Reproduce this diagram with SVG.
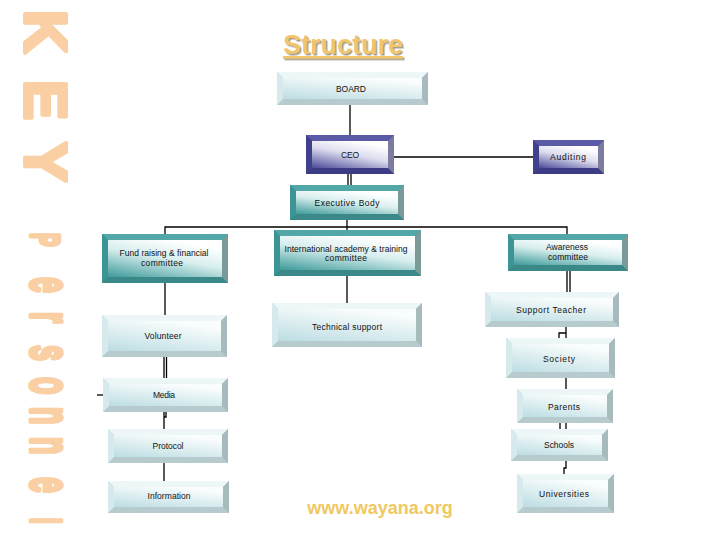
<svg xmlns="http://www.w3.org/2000/svg" width="720" height="540" viewBox="0 0 720 540">
<defs>
<linearGradient id="gLight" x1="0" y1="1" x2="0.55" y2="0"><stop offset="0" stop-color="#BCDDE2"/><stop offset="1" stop-color="#FAFDFD"/></linearGradient>
<linearGradient id="gTeal" x1="0" y1="1" x2="0.55" y2="0"><stop offset="0" stop-color="#3E9A9A"/><stop offset="0.6" stop-color="#D8EEEE"/><stop offset="1" stop-color="#FFFFFF"/></linearGradient>
<linearGradient id="gNavy" x1="0" y1="1" x2="0.55" y2="0"><stop offset="0" stop-color="#4A4A98"/><stop offset="0.6" stop-color="#DCDCEE"/><stop offset="1" stop-color="#FFFFFF"/></linearGradient>
<filter id="shadow" x="-10%" y="-20%" width="130%" height="150%"><feDropShadow dx="1.5" dy="1.5" stdDeviation="0.4" flood-color="#8C8470" flood-opacity="0.8"/></filter>
</defs>
<style>
text{font-family:"Liberation Sans",Arial,sans-serif}
.lbl{font-size:8.5px;fill:#111;text-anchor:middle}
.lt .o{fill:#B7CBCE}.lt .t{fill:#EEF7F8}.lt .l{fill:#D6E9EC}.lt .r{fill:#A7BBBE}.lt .f{fill:url(#gLight)}
.tl .o{fill:#3A8888}.tl .t{fill:#52A8A8}.tl .l{fill:#3C9494}.tl .r{fill:#7A9A9A}.tl .f{fill:url(#gTeal)}
.nv .o{fill:#3C3C84}.nv .t{fill:#5A5AA6}.nv .l{fill:#40408C}.nv .r{fill:#7C7C9E}.nv .f{fill:url(#gNavy)}
.cn line,.cn path{stroke:#000;stroke-width:1.3;fill:none}
.side{font-size:60px;font-weight:bold;fill:#F9CFA3;stroke:#F9CFA3;stroke-linejoin:round}
</style>
<rect width="720" height="540" fill="#FFFFFF"/>

<text class="side" stroke-width="4" transform="translate(25,0) rotate(90)"><tspan x="10">K</tspan><tspan x="80">E</tspan><tspan x="142">Y</tspan></text>
<text class="side" stroke-width="4.5" transform="translate(31,0) rotate(90) scale(0.5,1)"><tspan x="466" font-size="41">P</tspan><tspan x="554 624 690 754 814 874 954" font-size="57">ersonne</tspan><tspan x="1036" font-size="41">l</tspan></text>

<text x="343" y="54" text-anchor="middle" font-size="27" font-weight="bold" fill="#F2C56B" text-decoration="underline" filter="url(#shadow)">Structure</text>

<g class="cn" id="connectors">
<line x1="350" y1="105" x2="350" y2="135" stroke-width="2"/>
<line x1="394" y1="157" x2="533" y2="157"/>
<line x1="348" y1="174" x2="348" y2="185"/>
<line x1="351" y1="174" x2="351" y2="185"/>
<line x1="347" y1="220" x2="347" y2="230"/>
<path d="M165,234 V227 H567 V234"/>
<line x1="165" y1="283" x2="165" y2="315"/>
<line x1="347" y1="276" x2="347" y2="303"/>
<line x1="567" y1="271" x2="567" y2="292"/>
<line x1="570" y1="271" x2="570" y2="292"/>
<line x1="566" y1="327" x2="566" y2="338"/>
<path d="M559,338 V333 H566"/>
<line x1="566" y1="378" x2="566" y2="389" stroke-width="2"/>
<line x1="560" y1="423" x2="560" y2="429"/>
<line x1="566" y1="423" x2="566" y2="429"/>
<path d="M566,461 V468 H564 V474"/>
<line x1="164" y1="357" x2="164" y2="378"/>
<line x1="166.5" y1="357" x2="166.5" y2="378"/>
<path d="M164,412 V429 M166,412 V417 H164"/>
<line x1="164" y1="463" x2="164" y2="481"/>
<line x1="97" y1="395" x2="103" y2="395"/>
</g>

<g id="board" class="lt"><rect class="o" x="277" y="72" width="151" height="33"/><polygon class="t" points="277,72 428,72 422,78 283,78"/><polygon class="l" points="277,72 283,78 283,99 277,105"/><polygon class="r" points="428,72 428,105 422,99 422,78"/><rect class="f" x="283" y="78" width="139" height="21"/><text class="lbl" x="351" y="92" font-size="8" textLength="30">BOARD</text></g>

<g id="ceo" class="nv"><rect class="o" x="306" y="135" width="88" height="39"/><polygon class="t" points="306,135 394,135 388,141 312,141"/><polygon class="l" points="306,135 312,141 312,168 306,174"/><polygon class="r" points="394,135 394,174 388,168 388,141"/><rect class="f" x="312" y="141" width="76" height="27"/><text class="lbl" x="350" y="158" textLength="18">CEO</text></g>

<g id="auditing" class="nv"><rect class="o" x="533" y="140" width="71" height="34"/><polygon class="t" points="533,140 604,140 598,146 539,146"/><polygon class="l" points="533,140 539,146 539,168 533,174"/><polygon class="r" points="604,140 604,174 598,168 598,146"/><rect class="f" x="539" y="146" width="59" height="22"/><text class="lbl" x="568" y="160" textLength="36">Auditing</text></g>

<g id="executive" class="tl"><rect class="o" x="290" y="185" width="114" height="35"/><polygon class="t" points="290,185 404,185 398,191 296,191"/><polygon class="l" points="290,185 296,191 296,214 290,220"/><polygon class="r" points="404,185 404,220 398,214 398,191"/><rect class="f" x="296" y="191" width="102" height="23"/><text class="lbl" x="347" y="206" textLength="65">Executive Body</text></g>

<g id="fund" class="tl"><rect class="o" x="102" y="234" width="126" height="49"/><polygon class="t" points="102,234 228,234 222,240 108,240"/><polygon class="l" points="102,234 108,240 108,277 102,283"/><polygon class="r" points="228,234 228,283 222,277 222,240"/><rect class="f" x="108" y="240" width="114" height="37"/><text class="lbl" x="164" y="256" textLength="89">Fund raising &amp; financial</text><text class="lbl" x="162" y="266" textLength="42">committee</text></g>

<g id="intl" class="tl"><rect class="o" x="274" y="230" width="147" height="46"/><polygon class="t" points="274,230 421,230 415,236 280,236"/><polygon class="l" points="274,230 280,236 280,270 274,276"/><polygon class="r" points="421,230 421,276 415,270 415,236"/><rect class="f" x="280" y="236" width="135" height="34"/><text class="lbl" x="346" y="252" textLength="123">International academy &amp; training</text><text class="lbl" x="346" y="261" textLength="42">committee</text></g>

<g id="awareness" class="tl"><rect class="o" x="508" y="234" width="120" height="37"/><polygon class="t" points="508,234 628,234 622,240 514,240"/><polygon class="l" points="508,234 514,240 514,265 508,271"/><polygon class="r" points="628,234 628,271 622,265 622,240"/><rect class="f" x="514" y="240" width="108" height="25"/><text class="lbl" x="567" y="250" textLength="42">Awareness</text><text class="lbl" x="568" y="260" textLength="40">committee</text></g>

<g id="support" class="lt"><rect class="o" x="485" y="292" width="134" height="35"/><polygon class="t" points="485,292 619,292 613,298 491,298"/><polygon class="l" points="485,292 491,298 491,321 485,327"/><polygon class="r" points="619,292 619,327 613,321 613,298"/><rect class="f" x="491" y="298" width="122" height="23"/><text class="lbl" x="551" y="313" textLength="70">Support Teacher</text></g>

<g id="technical" class="lt"><rect class="o" x="272" y="303" width="150" height="44"/><polygon class="t" points="272,303 422,303 416,309 278,309"/><polygon class="l" points="272,303 278,309 278,341 272,347"/><polygon class="r" points="422,303 422,347 416,341 416,309"/><rect class="f" x="278" y="309" width="138" height="32"/><text class="lbl" x="347" y="330" textLength="70">Technical support</text></g>

<g id="volunteer" class="lt"><rect class="o" x="102" y="315" width="125" height="42"/><polygon class="t" points="102,315 227,315 221,321 108,321"/><polygon class="l" points="102,315 108,321 108,351 102,357"/><polygon class="r" points="227,315 227,357 221,351 221,321"/><rect class="f" x="108" y="321" width="113" height="30"/><text class="lbl" x="163" y="339" textLength="37">Volunteer</text></g>

<g id="society" class="lt"><rect class="o" x="506" y="338" width="109" height="40"/><polygon class="t" points="506,338 615,338 609,344 512,344"/><polygon class="l" points="506,338 512,344 512,372 506,378"/><polygon class="r" points="615,338 615,378 609,372 609,344"/><rect class="f" x="512" y="344" width="97" height="28"/><text class="lbl" x="559" y="362" textLength="32">Society</text></g>

<g id="media" class="lt"><rect class="o" x="103" y="378" width="125" height="34"/><polygon class="t" points="103,378 228,378 222,384 109,384"/><polygon class="l" points="103,378 109,384 109,406 103,412"/><polygon class="r" points="228,378 228,412 222,406 222,384"/><rect class="f" x="109" y="384" width="113" height="22"/><text class="lbl" x="164" y="398" textLength="22">Media</text></g>

<g id="parents" class="lt"><rect class="o" x="517" y="389" width="96" height="34"/><polygon class="t" points="517,389 613,389 607,395 523,395"/><polygon class="l" points="517,389 523,395 523,417 517,423"/><polygon class="r" points="613,389 613,423 607,417 607,395"/><rect class="f" x="523" y="395" width="84" height="22"/><text class="lbl" x="564" y="410" textLength="32">Parents</text></g>

<g id="protocol" class="lt"><rect class="o" x="108" y="429" width="120" height="34"/><polygon class="t" points="108,429 228,429 222,435 114,435"/><polygon class="l" points="108,429 114,435 114,457 108,463"/><polygon class="r" points="228,429 228,463 222,457 222,435"/><rect class="f" x="114" y="435" width="108" height="22"/><text class="lbl" x="168" y="449" textLength="31">Protocol</text></g>

<g id="schools" class="lt"><rect class="o" x="511" y="429" width="97" height="32"/><polygon class="t" points="511,429 608,429 602,435 517,435"/><polygon class="l" points="511,429 517,435 517,455 511,461"/><polygon class="r" points="608,429 608,461 602,455 602,435"/><rect class="f" x="517" y="435" width="85" height="20"/><text class="lbl" x="559" y="448" textLength="30">Schools</text></g>

<g id="universities" class="lt"><rect class="o" x="517" y="474" width="97" height="39"/><polygon class="t" points="517,474 614,474 608,480 523,480"/><polygon class="l" points="517,474 523,480 523,507 517,513"/><polygon class="r" points="614,474 614,513 608,507 608,480"/><rect class="f" x="523" y="480" width="85" height="27"/><text class="lbl" x="564" y="497" textLength="50">Universities</text></g>

<g id="information" class="lt"><rect class="o" x="108" y="481" width="121" height="32"/><polygon class="t" points="108,481 229,481 223,487 114,487"/><polygon class="l" points="108,481 114,487 114,507 108,513"/><polygon class="r" points="229,481 229,513 223,507 223,487"/><rect class="f" x="114" y="487" width="109" height="20"/><text class="lbl" x="169" y="499" textLength="43">Information</text></g>

<text x="380" y="514" text-anchor="middle" font-size="18" font-weight="bold" fill="#F0C860">www.wayana.org</text>
</svg>
